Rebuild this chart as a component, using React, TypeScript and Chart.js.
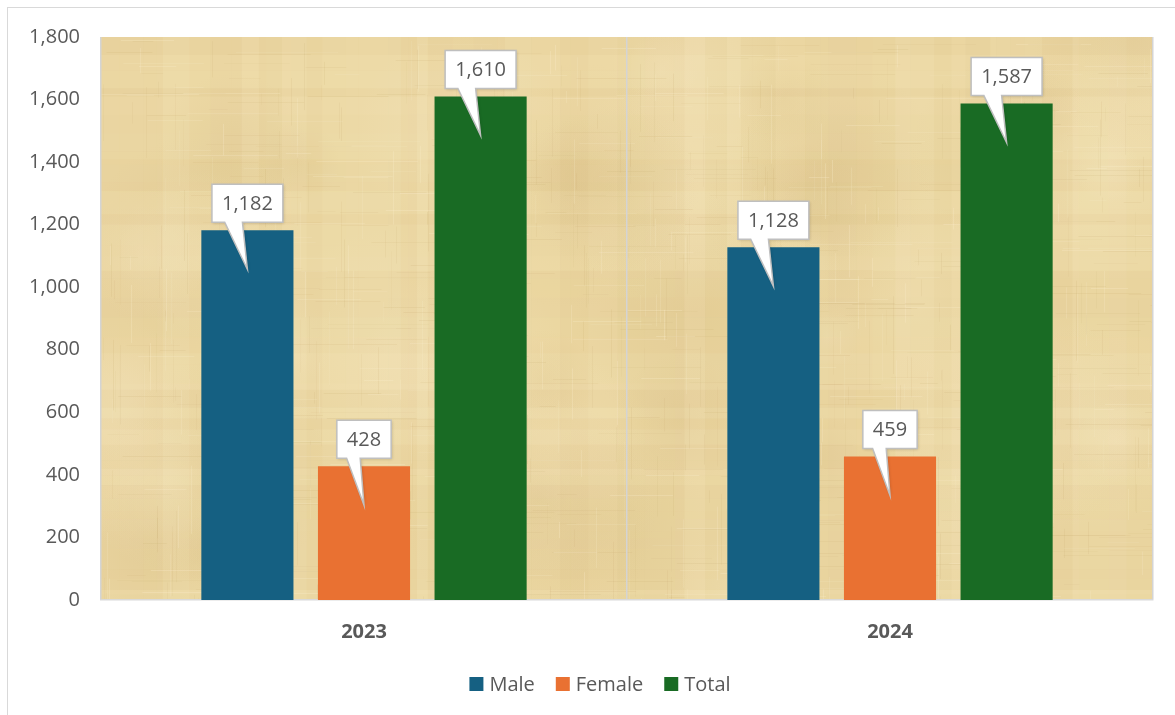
import React, { useEffect, useRef } from 'react';
import { Chart, registerables } from 'chart.js';

Chart.register(...registerables);

const categories = ['2023', '2024'];
const seriesNames = ['Male', 'Female', 'Total'];
const maleValues = [1182, 1128];
const femaleValues = [428, 459];
const totalValues = [1610, 1587];
const seriesColors = ['#156082', '#E97132', '#196B24'];
const yMin = 0;
const yMax = 1800;
const yStep = 200;

const FONT = '"Open Sans", "Liberation Sans", sans-serif';
const TEXT = '#595959';

function mulberry32(a: number) {
  return function () {
    a |= 0;
    a = (a + 0x6d2b79f5) | 0;
    let t = Math.imul(a ^ (a >>> 15), 1 | a);
    t = (t + Math.imul(t ^ (t >>> 7), 61 | t)) ^ t;
    return ((t ^ (t >>> 14)) >>> 0) / 4294967296;
  };
}

function makeTexture(w: number, h: number): HTMLCanvasElement {
  const c = document.createElement('canvas');
  c.width = Math.max(1, Math.round(w));
  c.height = Math.max(1, Math.round(h));
  const g = c.getContext('2d')!;
  const rnd = mulberry32(4242);
  g.fillStyle = 'rgb(236,216,163)';
  g.fillRect(0, 0, c.width, c.height);
  for (let i = 0; i < 50; i++) {
    const x = rnd() * c.width;
    const y = rnd() * c.height;
    const r = 30 + rnd() * 100;
    const light = rnd() > 0.45;
    const grad = g.createRadialGradient(x, y, 0, x, y, r);
    grad.addColorStop(0, light ? 'rgba(244,228,186,0.45)' : 'rgba(218,192,134,0.28)');
    grad.addColorStop(1, light ? 'rgba(244,228,186,0)' : 'rgba(218,192,134,0)');
    g.fillStyle = grad;
    g.fillRect(x - r, y - r, r * 2, r * 2);
  }
  let y = 0;
  while (y < c.height) {
    const hh = 4 + rnd() * 18;
    const v = rnd();
    g.fillStyle = v > 0.5 ? `rgba(246,232,194,${0.05 + rnd() * 0.1})` : `rgba(210,182,122,${0.03 + rnd() * 0.06})`;
    g.fillRect(0, y, c.width, hh);
    y += hh;
  }
  let x = 0;
  while (x < c.width) {
    const ww = 6 + rnd() * 26;
    const v = rnd();
    g.fillStyle = v > 0.5 ? `rgba(246,232,194,${0.04 + rnd() * 0.08})` : `rgba(210,182,122,${0.02 + rnd() * 0.05})`;
    g.fillRect(x, 0, ww, c.height);
    x += ww;
  }
  for (let i = 0; i < 500; i++) {
    const xx = Math.floor(rnd() * c.width);
    const y0 = rnd() * c.height;
    const len = 10 + rnd() * 70;
    const dark = rnd() > 0.4;
    g.fillStyle = dark ? `rgba(195,165,105,${0.05 + rnd() * 0.09})` : `rgba(250,238,205,${0.1 + rnd() * 0.18})`;
    g.fillRect(xx, y0, 1, len);
  }
  for (let i = 0; i < 500; i++) {
    const x0 = rnd() * c.width;
    const yy = Math.floor(rnd() * c.height);
    const len = 15 + rnd() * 90;
    const dark = rnd() > 0.4;
    g.fillStyle = dark ? `rgba(195,165,105,${0.05 + rnd() * 0.09})` : `rgba(250,238,205,${0.1 + rnd() * 0.18})`;
    g.fillRect(x0, yy, len, 1);
  }
  return c;
}

const backgroundPlugin = {
  id: 'paperBackground',
  beforeDraw(chart: any) {
    const { ctx, chartArea, width, height } = chart;
    ctx.save();
    ctx.fillStyle = '#FFFFFF';
    ctx.fillRect(0, 0, width, height);
    ctx.strokeStyle = '#D9D9D9';
    ctx.lineWidth = 1;
    ctx.strokeRect(7.5, 7.5, width - 6, height + 10);
    const tw = chartArea.right - chartArea.left;
    const th = chartArea.bottom - chartArea.top;
    if (!chart.$texture || chart.$texture.width !== Math.round(tw) || chart.$texture.height !== Math.round(th)) {
      chart.$texture = makeTexture(tw, th);
    }
    ctx.drawImage(chart.$texture, chartArea.left, chartArea.top, tw, th);
    ctx.restore();
  },
};

const calloutPlugin = {
  id: 'callouts',
  afterDatasetsDraw(chart: any) {
    const ctx = chart.ctx;
    ctx.save();
    ctx.font = `20px ${FONT}`;
    chart.data.datasets.forEach((ds: any, di: number) => {
      const meta = chart.getDatasetMeta(di);
      meta.data.forEach((bar: any, i: number) => {
        const v = ds.data[i];
        const text = Number(v).toLocaleString('en-US');
        const tw = ctx.measureText(text).width;
        const w = tw + 20;
        const h = 38;
        const cx = bar.x;
        const bottom = bar.y - 8;
        const top = bottom - h;
        const left = cx - w / 2;
        const right = cx + w / 2;
        const tipY = bar.y + 39;
        const bl = cx - 0.32 * w;
        const br = cx - 0.07 * w;
        ctx.beginPath();
        ctx.moveTo(left, top);
        ctx.lineTo(right, top);
        ctx.lineTo(right, bottom);
        ctx.lineTo(br, bottom);
        ctx.lineTo(cx, tipY);
        ctx.lineTo(bl, bottom);
        ctx.lineTo(left, bottom);
        ctx.closePath();
        ctx.shadowColor = 'rgba(0,0,0,0.18)';
        ctx.shadowBlur = 3;
        ctx.shadowOffsetX = 1;
        ctx.shadowOffsetY = 1;
        ctx.fillStyle = '#FFFFFF';
        ctx.fill();
        ctx.shadowColor = 'rgba(0,0,0,0)';
        ctx.strokeStyle = '#BFBFBF';
        ctx.lineWidth = 1.5;
        ctx.stroke();
        ctx.fillStyle = TEXT;
        ctx.textAlign = 'center';
        ctx.textBaseline = 'middle';
        ctx.fillText(text, cx, (top + bottom) / 2 + 1);
      });
    });
    ctx.restore();
  },
};

const legendPlugin = {
  id: 'customLegend',
  afterDraw(chart: any) {
    const ctx = chart.ctx;
    ctx.save();
    ctx.font = `20px ${FONT}`;
    const items = chart.data.datasets.map((ds: any) => ({
      label: ds.label,
      color: ds.backgroundColor,
      tw: ctx.measureText(ds.label).width,
    }));
    const box = 14;
    const gapText = 6;
    const gapItem = 21;
    const total = items.reduce((s: number, it: any) => s + box + gapText + it.tw, 0) + gapItem * (items.length - 1);
    let x = 600 - total / 2;
    const cy = 684;
    items.forEach((it: any) => {
      ctx.fillStyle = it.color;
      ctx.fillRect(x, cy - box / 2, box, box);
      x += box + gapText;
      ctx.fillStyle = TEXT;
      ctx.textAlign = 'left';
      ctx.textBaseline = 'middle';
      ctx.fillText(it.label, x, cy + 1);
      x += it.tw + gapItem;
    });
    ctx.restore();
  },
};

export default function App() {
  const ref = useRef<HTMLCanvasElement | null>(null);
  useEffect(() => {
    document.body.style.margin = '0';
    const canvas = ref.current!;
    const seriesData = [maleValues, femaleValues, totalValues];
    const chart = new Chart(canvas, {
      type: 'bar',
      data: {
        labels: categories,
        datasets: seriesNames.map((name, i) => ({
          label: name,
          data: seriesData[i],
          backgroundColor: seriesColors[i],
          borderWidth: 0,
          categoryPercentage: 0.665,
          barPercentage: 0.79,
        })),
      },
      options: {
        responsive: false,
        animation: false,
        layout: { padding: { left: 8, right: 22, top: 37, bottom: 50 } },
        plugins: {
          legend: { display: false },
          tooltip: { enabled: false },
        },
        scales: {
          x: {
            grid: { display: true, color: '#D4D4D4', lineWidth: 1.5, drawTicks: false, offset: true },
            border: { display: true, color: '#D9D9D9', width: 1.5 },
            ticks: { font: { family: FONT, size: 20, weight: 'bold' }, color: TEXT, padding: 20 },
            afterFit(scale: any) {
              scale.height = 65;
            },
          },
          y: {
            min: yMin,
            max: yMax,
            ticks: {
              stepSize: yStep,
              font: { family: FONT, size: 20 },
              color: TEXT,
              padding: 13,
              callback: (v: any) => Number(v).toLocaleString('en-US'),
            },
            grid: { display: false },
            border: { display: false },
            afterFit(scale: any) {
              scale.width = 93;
            },
          },
        },
      },
      plugins: [backgroundPlugin, calloutPlugin, legendPlugin],
    });
    return () => chart.destroy();
  }, []);
  return <canvas ref={ref} width={1175} height={715} style={{ display: 'block' }} />;
}
